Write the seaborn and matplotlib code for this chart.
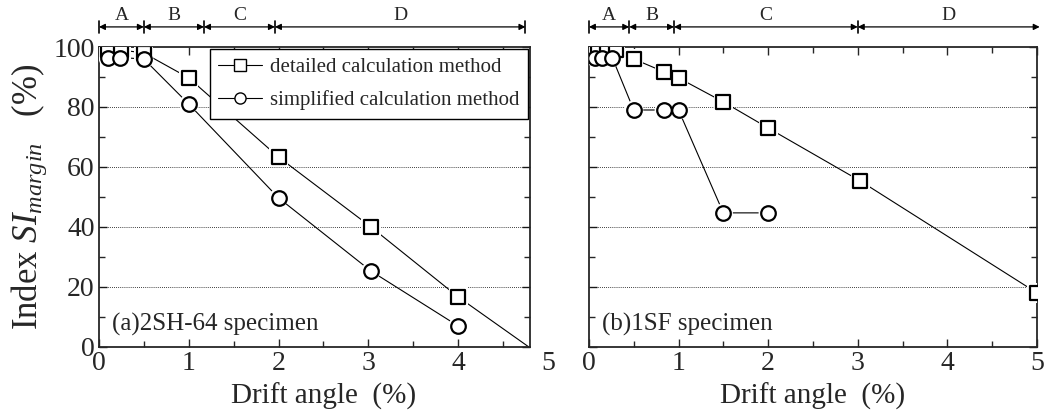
import numpy as np
import pandas as pd
import matplotlib
matplotlib.use('Agg')
import matplotlib.pyplot as plt
from matplotlib.lines import Line2D
from matplotlib.ticker import MultipleLocator
import seaborn as sns

sns.set_style('ticks')
plt.rcParams['font.family'] = ['Liberation Serif', 'DejaVu Serif']
plt.rcParams['mathtext.fontset'] = 'custom'
plt.rcParams['mathtext.rm'] = 'Liberation Serif'
plt.rcParams['mathtext.it'] = 'Liberation Serif:italic'

# (a) 2SH-64 specimen
a_det_x = [0.1, 0.25, 0.5, 1.0, 2.0, 3.03, 4.0, 5.0]
a_det_y = [99, 99, 98, 89.7, 63.3, 40, 16.7, -4.5]
a_sim_x = [0.1, 0.23, 0.5, 1.0, 2.0, 3.03, 4.0]
a_sim_y = [96.5, 96.5, 96, 81, 49.7, 25.3, 7]
# (b) 1SF specimen
b_det_x = [0.1, 0.2, 0.3, 0.5, 0.84, 1.0, 1.5, 2.0, 3.03, 5.0]
b_det_y = [99, 99, 99, 96, 91.7, 89.7, 81.7, 73, 55.3, 18]
b_sim_x = [0.07, 0.15, 0.26, 0.5, 0.84, 1.0, 1.5, 2.0]
b_sim_y = [96.5, 96.5, 96.5, 79, 79, 79, 44.7, 44.7]

# stage bands above each panel
a_bounds = [0, 0.5, 1.17, 1.96, 4.75]
b_bounds = [0, 0.45, 0.95, 3.0, 5.03]
stage_names = ['A', 'B', 'C', 'D']

panels = [
    ('(a)2SH-64 specimen', a_det_x, a_det_y, a_sim_x, a_sim_y, a_bounds, 4.8),
    ('(b)1SF specimen', b_det_x, b_det_y, b_sim_x, b_sim_y, b_bounds, 5.0),
]

fig = plt.figure(figsize=(10.46, 4.16), dpi=100)
ax1 = fig.add_axes([0.0946, 0.166, 0.412, 0.721])
ax2 = fig.add_axes([0.563, 0.166, 0.4284, 0.721])
axes = [ax1, ax2]

for ax, (title, dx, dy, sx, sy, bounds, xmax) in zip(axes, panels):
    det = pd.DataFrame({'x': dx, 'y': dy})
    sim = pd.DataFrame({'x': sx, 'y': sy})
    for df, mk in [(det, 's'), (sim, 'o')]:
        sns.lineplot(data=df, x='x', y='y', ax=ax, color='black', lw=0.8,
                     sort=False, estimator=None, zorder=2)
        # white halo so lines stop short of markers
        sns.scatterplot(data=df, x='x', y='y', ax=ax, marker=mk, s=190,
                        color='white', edgecolor='none', zorder=3)
        sns.scatterplot(data=df, x='x', y='y', ax=ax, marker=mk, s=110,
                        facecolor='white', edgecolor='black', linewidth=1.6,
                        zorder=4)
    ax.set_xlim(0, xmax)
    ax.set_ylim(0, 100)
    ax.xaxis.set_major_locator(MultipleLocator(1))
    ax.xaxis.set_minor_locator(MultipleLocator(0.5))
    ax.yaxis.set_major_locator(MultipleLocator(20))
    ax.yaxis.set_minor_locator(MultipleLocator(10))
    ax.tick_params(which='both', direction='in', top=True, right=True,
                   labelsize=20, width=1, pad=3)
    ax.tick_params(which='major', length=6)
    ax.tick_params(which='minor', length=4)
    for yg in [20, 40, 60, 80]:
        ax.axhline(yg, color='black', lw=0.6, ls=(0, (1, 1.5)), zorder=1)
    for sp in ax.spines.values():
        sp.set_linewidth(1.3)
    ax.set_xlabel('Drift angle  (%)', fontsize=21, labelpad=5)
    ax.set_ylabel('')
    ax.text(0.03, 0.075, title, transform=ax.transAxes, fontsize=18,
            ha='left', va='center')

    # stage arrows
    yy = 106.7
    for i, name in enumerate(stage_names):
        x0, x1 = bounds[i], bounds[i + 1]
        ax.annotate('', xy=(x1, yy), xytext=(x0, yy),
                    arrowprops=dict(arrowstyle='<|-|>', color='black', lw=0.9,
                                    mutation_scale=9, shrinkA=0, shrinkB=0),
                    annotation_clip=False)
        ax.text((x0 + x1) / 2, yy + 1.0, name, ha='center', va='bottom',
                fontsize=14, clip_on=False)
    for xb in bounds[:-1]:
        ax.plot([xb, xb], [yy - 2, yy + 2], color='black', lw=1.2,
                clip_on=False)
    if ax is ax1:
        ax.plot([bounds[-1], bounds[-1]], [yy - 2, yy + 2], color='black',
                lw=1.2, clip_on=False)

ax1.set_ylabel(r'Index $SI_{margin}$   (%)', fontsize=25, labelpad=3)
ax2.set_yticklabels([])
# left panel x axis is cut at 4.8 but the "5" label is still printed
ax1.annotate('5', xy=(5, 0), xycoords=('data', 'axes fraction'),
             xytext=(0, -3), textcoords='offset points', ha='center',
             va='top', fontsize=20, annotation_clip=False)
# the left x label sits centred on the 0-5 span
ax1.xaxis.label.set_x(5 / 4.8 / 2)

handles = [
    Line2D([], [], color='black', lw=0.8, marker='s', markersize=8,
           markerfacecolor='white', markeredgecolor='black'),
    Line2D([], [], color='black', lw=0.8, marker='o', markersize=8,
           markerfacecolor='white', markeredgecolor='black'),
]
leg = ax1.legend(handles, ['detailed calculation method',
                           'simplified calculation method'],
                 loc='upper right', bbox_to_anchor=(1.0, 1.0), fontsize=15,
                 frameon=True, fancybox=False, edgecolor='black',
                 framealpha=1, borderpad=0.4, labelspacing=0.65,
                 handlelength=2.1, handletextpad=0.4, borderaxespad=0.1)
leg.get_frame().set_linewidth(1.0)

fig.savefig('out.png', dpi=100)
